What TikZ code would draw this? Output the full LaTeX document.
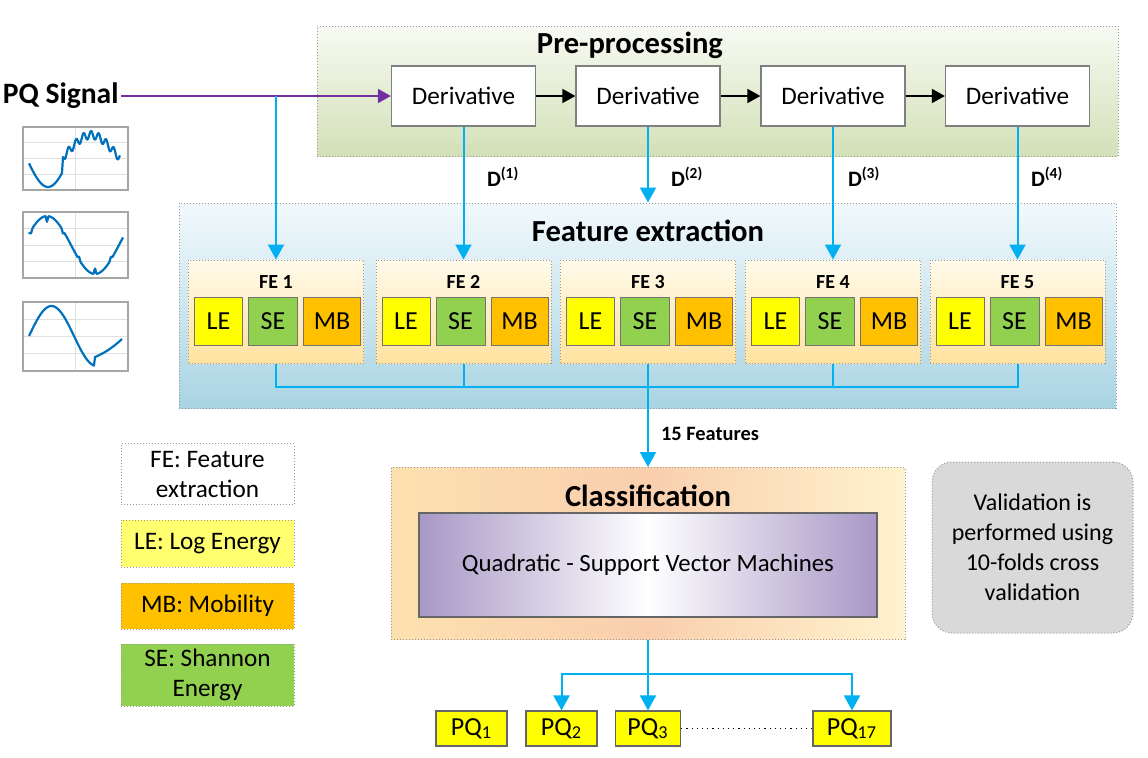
\documentclass[tikz,border=0pt]{standalone}
\usepackage{fontspec}
\setmainfont{Carlito}
\usepackage{tikz}
\usetikzlibrary{arrows.meta, positioning, shapes, calc}

\definecolor{pqblue}{HTML}{00B0F0}
\definecolor{pqpurple}{HTML}{7030A0}
\definecolor{leyellow}{HTML}{FFFF00}
\definecolor{leglight}{HTML}{FFFF70}
\definecolor{segreen}{HTML}{92D050}
\definecolor{mborange}{HTML}{FFC000}
\definecolor{sigblue}{HTML}{0072BD}
\definecolor{framegray}{HTML}{7F7F7F}
\definecolor{preTop}{HTML}{F7FAF2}
\definecolor{preBot}{HTML}{D3E0B8}
\definecolor{featTop}{HTML}{F2F9FC}
\definecolor{featBot}{HTML}{A9D4E3}
\definecolor{feTop}{HTML}{FFFAEA}
\definecolor{feBot}{HTML}{FFE2A0}
\definecolor{clsA}{HTML}{FDE0B0}
\definecolor{clsB}{HTML}{F9CFAE}
\definecolor{clsC}{HTML}{FFF2CE}
\definecolor{svmPurple}{HTML}{A898C6}
\definecolor{valGray}{HTML}{D9D9D9}

\begin{document}
\begin{tikzpicture}[x=0.5pt, y=-0.5pt,
    boxtitle/.style={font=\bfseries\fontsize{15.3}{18}\selectfont},
    txt/.style={font=\fontsize{12.6}{15}\selectfont},
    dotframe/.style={draw=framegray!80, densely dotted, line width=0.5pt},
    derivbox/.style={txt, draw=framegray, fill=white, line width=0.6pt, minimum width=72pt, minimum height=30pt},
    subbox/.style={font=\fontsize{13}{15}\selectfont, draw=black!55, line width=0.5pt, minimum height=24pt, inner sep=0pt},
    lebox/.style={subbox, fill=leyellow, minimum width=24pt},
    sebox/.style={subbox, fill=segreen, minimum width=24.5pt},
    mbbox/.style={subbox, fill=mborange, minimum width=28.5pt},
    febox/.style={dotframe, top color=feTop, bottom color=feBot, minimum width=87.5pt, minimum height=51.5pt},
    legbox/.style={txt, dotframe, align=center, minimum width=86.5pt, inner sep=0pt},
    pqbox/.style={draw=black!60, fill=leyellow, line width=0.6pt, minimum height=17.5pt, inner sep=0pt, font=\fontsize{13}{15}\selectfont},
    dlabel/.style={anchor=west, font=\bfseries\fontsize{11}{13}\selectfont},
    blueline/.style={pqblue, line width=1pt},
    bluearrow/.style={blueline, -{Triangle[width=8pt,length=7.5pt]}},
    blackarrow/.style={black, line width=0.8pt, -{Triangle[width=7pt,length=6.5pt]}},
    sigline/.style={sigblue, line width=1.1pt, line join=round},
    gridline/.style={gray!25, line width=0.3pt},
]

    % picture frame
    \useasboundingbox (0,0) rectangle (1148,757);

    % Pre-processing block
    \node[dotframe, top color=preTop, bottom color=preBot, minimum width=400.5pt, minimum height=65pt] (pre) at (717.5,91) {};
    \node[boxtitle] (pretitle) at (630,45) {Pre-processing};
    \node[derivbox] (d1) at (463.5,96) {Derivative};
    \node[derivbox] (d2) at (648,96) {Derivative};
    \node[derivbox] (d3) at (833,96) {Derivative};
    \node[derivbox] (d4) at (1017.5,96) {Derivative};
    \draw[blackarrow] (d1) -- (d2);
    \draw[blackarrow] (d2) -- (d3);
    \draw[blackarrow] (d3) -- (d4);

    % input signal
    \node[font=\bfseries\fontsize{14.8}{18}\selectfont, anchor=east, inner sep=1pt] (sig) at (121,96) {PQ Signal};
    \draw[pqpurple, line width=1pt, -{Triangle[width=7pt,length=6.5pt]}] (sig) -- (d1);
    \coordinate (tap) at (276,96);

    % small signal plots
    \foreach \ya/\yb in {127/190, 212/278, 302/371}{
        \draw[gridline] (75.5,\ya) -- (75.5,\yb);
        \foreach \k in {0.25,0.5,0.75}
            \draw[gridline] (23,{\ya+\k*(\yb-\ya)}) -- (128,{\ya+\k*(\yb-\ya)});
        \draw[gray!70, line width=0.6pt] (23,\ya) rectangle (128,\yb);
    }
    \draw[sigline] plot[domain=29:62, samples=30] (\x,{158+29*cos((\x-48)/86*360)})
        -- plot[domain=63:120, samples=140] (\x,{150+15*cos((\x-48)/86*360)+4*sin((\x-63)/7.5*360)});
    \draw[sigline] plot[domain=29:123, samples=200]
        (\x,{245-(29-6*max(0,1-abs(mod(\x-23,16)-8)/1.5))*cos((\x-47)/96*360)});
    \draw[sigline] plot[domain=29:94, samples=60] (\x,{336-30*sin((\x-29)/45*180)})
        -- plot[domain=95:122, samples=20] (\x,{357-18*((\x-95)/27)*(0.6+0.4*(\x-95)/27)});

    % Feature extraction block
    \node[dotframe, top color=featTop, bottom color=featBot, minimum width=468.5pt, minimum height=102.5pt] (feat) at (647.5,305.5) {};
    \node[boxtitle] (feattitle) at (648,231) {Feature extraction};
    \foreach \i/\cx in {1/276,2/463.5,3/648,4/833,5/1017.5}{
        \node[febox] (fe\i) at (\cx,311.5) {};
        \node[font=\bfseries\fontsize{10}{12}\selectfont] (fel\i) at (\cx,282) {FE \i};
        \node[sebox] (se\i) at (\cx-3,321) {SE};
        \node[lebox, left=2.5pt of se\i] (le\i) {LE};
        \node[mbbox, right=2.5pt of se\i] (mb\i) {MB};
    }

    % derivative outputs
    \draw[bluearrow] (tap) -- (tap |- fe1.north);
    \draw[bluearrow] (d1.south) -- (fe2.north);
    \draw[bluearrow] (d2.south) -- (d2.south |- feat.north);
    \draw[bluearrow] (d3.south) -- (fe4.north);
    \draw[bluearrow] (d4.south) -- (fe5.north);
    \node[dlabel] (dl1) at (480,177) {D\textsuperscript{(1)}};
    \node[dlabel] (dl2) at (664,177) {D\textsuperscript{(2)}};
    \node[dlabel] (dl3) at (841,177) {D\textsuperscript{(3)}};
    \node[dlabel] (dl4) at (1024,177) {D\textsuperscript{(4)}};

    % collecting bus
    \coordinate (bus) at (0,387);
    \draw[blueline] (fe1.south) -- (fe1.south |- bus) -- (fe5.south |- bus) -- (fe5.south);
    \draw[blueline] (fe2.south) -- (fe2.south |- bus);
    \draw[blueline] (fe4.south) -- (fe4.south |- bus);

    % Classification block
    \node[dotframe, left color=clsA, right color=clsC, middle color=clsB, minimum width=257pt, minimum height=86pt] (cls) at (648,553.5) {};
    \node[boxtitle] (clstitle) at (648,496) {Classification};
    \node[font=\fontsize{12.4}{15}\selectfont, draw=black!60, line width=0.6pt, left color=svmPurple, right color=svmPurple, middle color=white, minimum width=229pt, minimum height=52pt] (svm) at (648,565) {Quadratic - Support Vector Machines};
    \draw[bluearrow] (fe3.south) -- (cls.north);
    \node[font=\bfseries\fontsize{10.2}{12}\selectfont] (nfeat) at (710,434) {15 Features};

    % legend
    \node[legbox, fill=white, minimum height=30.5pt] (legfe) at (207.5,474) {FE: Feature\\extraction};
    \node[legbox, fill=leglight, minimum height=23.5pt] (legle) at (207.5,543.5) {LE: Log Energy};
    \node[legbox, fill=mborange, minimum height=23pt] (legmb) at (207.5,606) {MB: Mobility};
    \node[legbox, fill=segreen, minimum height=31pt] (legse) at (207.5,675) {SE: Shannon\\Energy};

    % validation note
    \node[font=\fontsize{12}{15}\selectfont, dotframe, fill=valGray, rounded corners=10pt, align=center, minimum width=100.5pt, minimum height=85.5pt] (valid) at (1032.5,547.5) {Validation is\\performed using\\10-folds cross\\validation};

    % output classes
    \node[pqbox, minimum width=35.5pt] (pq1) at (471.5,728.5) {PQ\textsubscript{1}};
    \node[pqbox, minimum width=35.5pt] (pq2) at (561.5,728.5) {PQ\textsubscript{2}};
    \node[pqbox, minimum width=32.5pt] (pq3) at (648,728.5) {PQ\textsubscript{3}};
    \node[pqbox, minimum width=39pt] (pq17) at (852,728.5) {PQ\textsubscript{17}};
    \coordinate (split) at (648,674);
    \draw[bluearrow] (cls.south) -- (pq3.north);
    \draw[bluearrow] (split) -| (pq2.north);
    \draw[bluearrow] (split) -| (pq17.north);
    \draw[dotted, line width=0.6pt] (pq3.east) -- (pq17.west);

\end{tikzpicture}
\end{document}
